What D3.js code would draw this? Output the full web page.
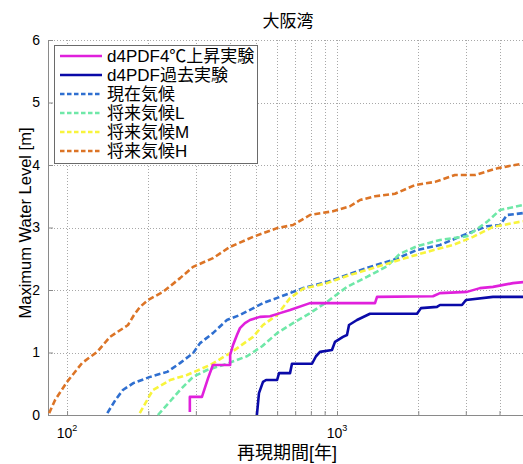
<!DOCTYPE html>
<html>
<head>
<meta charset="utf-8">
<script src="https://cdn.jsdelivr.net/npm/d3@7"></script>
<style>
  html, body { margin: 0; padding: 0; background: #fff; }
  svg { display: block; }
  text { font-family: "Liberation Sans", "Noto Sans CJK JP", sans-serif; fill: #000; }
</style>
</head>
<body>
<svg id="chart" width="523" height="464"></svg>
<script>
// Return period (years) and maximum water level (m) for each experiment
const T_4C = [285,285,316,333,347,402,402,412,426,437,456,476,518,565,615,670,794,1383,1407,2268,2407,3031,3384,3783,4486,4970];
const V_4C = [0.05,0.29,0.29,0.59,0.80,0.80,0.96,1.12,1.28,1.39,1.47,1.52,1.57,1.58,1.63,1.68,1.79,1.79,1.89,1.90,1.95,1.97,2.03,2.05,2.11,2.13];

const T_PAST = [505,514,532,546,600,610,670,681,808,836,865,958,983,1052,1089,1108,1186,1325,1979,2047,2346,2407,2904,3005,3783,4970];
const V_PAST = [0.00,0.35,0.53,0.56,0.56,0.67,0.67,0.82,0.82,0.94,1.01,1.04,1.17,1.25,1.28,1.44,1.52,1.62,1.62,1.71,1.73,1.76,1.76,1.84,1.89,1.89];

const T_NOW = [141,151,161,176,203,235,262,293,311,347,391,437,532,615,748,918,1089,1325,1613,1979,2407,3031,3594,4016,4262,4886];
const V_NOW = [0.03,0.24,0.40,0.51,0.61,0.69,0.83,0.99,1.15,1.31,1.52,1.60,1.79,1.89,2.03,2.13,2.24,2.37,2.48,2.64,2.72,2.90,3.02,3.04,3.20,3.23];

const T_L = [217,241,262,293,330,391,464,528,600,687,794,918,1089,1291,1532,1711,1979,2407,3031,3594,4016,4886];
const V_L = [0.00,0.22,0.40,0.61,0.72,0.82,0.94,1.10,1.31,1.47,1.63,1.81,2.05,2.21,2.38,2.58,2.70,2.80,2.86,3.09,3.28,3.36];

const T_M = [186,198,208,241,278,339,402,489,532,600,670,748,918,1117,1407,1755,2154,2690,3190,3783,4486,4886];
const V_M = [0.03,0.24,0.40,0.56,0.64,0.80,0.99,1.25,1.44,1.60,1.87,2.02,2.11,2.24,2.37,2.50,2.61,2.72,2.85,3.01,3.07,3.10];

const T_H = [85.8,90.3,100,113.6,129.2,144.3,168.2,177,186.4,199.5,226.8,262.2,292.9,347.3,401.6,488.6,599.5,687,794,966,1117,1217,1383,1640,1945,2307,2735,3245,3948,4844];
const V_H = [0.03,0.24,0.53,0.83,1.01,1.25,1.44,1.60,1.73,1.84,1.97,2.19,2.37,2.51,2.69,2.85,2.99,3.04,3.20,3.26,3.34,3.44,3.50,3.54,3.68,3.73,3.84,3.84,3.95,4.02];

const SERIES_NAMES = ["d4PDF4℃上昇実験", "d4PDF過去実験", "現在気候", "将来気候L", "将来気候M", "将来気候H"];
const SERIES_T = [T_4C, T_PAST, T_NOW, T_L, T_M, T_H];
const SERIES_V = [V_4C, V_PAST, V_NOW, V_L, V_M, V_H];
const SERIES_COLORS = ["#e020dc", "#0a0aa8", "#2f6fd0", "#6fe8a8", "#f8f43c", "#dc7426"];
const SERIES_DASHED = [false, false, true, true, true, true];

const Y_TICKS = [0, 1, 2, 3, 4, 5, 6];
const X_MAJOR = [100, 1000];
const X_GRID = [100,200,300,400,500,600,700,800,900,1000,2000,3000,4000,5000];

const TITLE = "大阪湾";
const X_LABEL = "再現期間[年]";
const Y_LABEL = "Maximum Water Level [m]";

// ---- layout ----
const svg = d3.select("#chart");
const L = 48, R = 528, TOP = 40, BOT = 415;

const x = d3.scaleLog().domain([85, 5100]).range([L, R]);
const y = d3.scaleLinear().domain([0, 6]).range([BOT, TOP]);

svg.append("defs").append("clipPath").attr("id", "plotclip")
  .append("rect").attr("x", L).attr("y", TOP - 2).attr("width", R - L).attr("height", BOT - TOP + 4);

// grid
const grid = svg.append("g").attr("stroke", "#a8a8a8").attr("stroke-width", 1).attr("stroke-dasharray", "1,2");
grid.selectAll("line.v").data(X_GRID).join("line")
  .attr("x1", d => Math.round(x(d)) + 0.5).attr("x2", d => Math.round(x(d)) + 0.5)
  .attr("y1", TOP).attr("y2", BOT);
grid.selectAll("line.h").data(Y_TICKS).join("line")
  .attr("x1", L).attr("x2", R)
  .attr("y1", d => Math.round(y(d)) + 0.5).attr("y2", d => Math.round(y(d)) + 0.5);

// axes
const yAxis = d3.axisLeft(y).tickValues(Y_TICKS).tickSize(-5).tickPadding(8).tickFormat(d3.format("d"));
const gy = svg.append("g").attr("transform", `translate(${L},0)`).call(yAxis);
gy.select(".domain").attr("stroke", "#8a8a8a");
gy.selectAll(".tick line").attr("stroke", "#8a8a8a");
gy.selectAll(".tick text").style("font-size", "14px").attr("fill", "#000");

const xAxis = d3.axisBottom(x).tickValues(X_GRID).tickSize(-4).tickFormat("");
const gx = svg.append("g").attr("transform", `translate(0,${BOT})`).call(xAxis);
gx.select(".domain").attr("stroke", "#8a8a8a");
gx.selectAll(".tick line").attr("stroke", "#8a8a8a");

// x tick labels as powers of ten
const xl = svg.append("g");
X_MAJOR.forEach(v => {
  const t = xl.append("text").attr("x", x(v)).attr("y", 438)
    .attr("text-anchor", "middle").style("font-size", "14px");
  t.append("tspan").text("10");
  t.append("tspan").attr("dy", -7).style("font-size", "9px").text(String(Math.round(Math.log10(v))));
});

// series
const plot = svg.append("g").attr("clip-path", "url(#plotclip)");
const line = d3.line().x(d => x(d[0])).y(d => y(d[1]));
const order = [5, 2, 3, 4, 0, 1];
order.forEach(i => {
  const pts = SERIES_T[i].map((t, k) => [t, SERIES_V[i][k]]);
  plot.append("path").datum(pts)
    .attr("fill", "none")
    .attr("stroke", SERIES_COLORS[i])
    .attr("stroke-width", 2.6)
    .attr("stroke-linejoin", "round")
    .attr("stroke-dasharray", SERIES_DASHED[i] ? "6,3" : null)
    .attr("d", line);
});

// legend
const lg = svg.append("g");
lg.append("rect").attr("x", 54.5).attr("y", 45.5).attr("width", 203).attr("height", 118)
  .attr("fill", "#fff").attr("stroke", "#6a6a6a").attr("stroke-width", 1);
SERIES_NAMES.forEach((name, i) => {
  const yy = 56 + i * 19;
  lg.append("line").attr("x1", 60).attr("x2", 102).attr("y1", yy).attr("y2", yy)
    .attr("stroke", SERIES_COLORS[i]).attr("stroke-width", 2.6)
    .attr("stroke-dasharray", SERIES_DASHED[i] ? "4.5,2.5" : null);
  lg.append("text").attr("x", 107).attr("y", yy + 6).style("font-size", "17px").text(name);
});

// titles
svg.append("text").attr("x", 288).attr("y", 27).attr("text-anchor", "middle")
  .style("font-size", "17px").text(TITLE);
svg.append("text").attr("x", 287).attr("y", 459).attr("text-anchor", "middle")
  .style("font-size", "18px").text(X_LABEL);
svg.append("text").attr("transform", "translate(31,223) rotate(-90)").attr("text-anchor", "middle")
  .style("font-size", "16.5px").text(Y_LABEL);
</script>
</body>
</html>
